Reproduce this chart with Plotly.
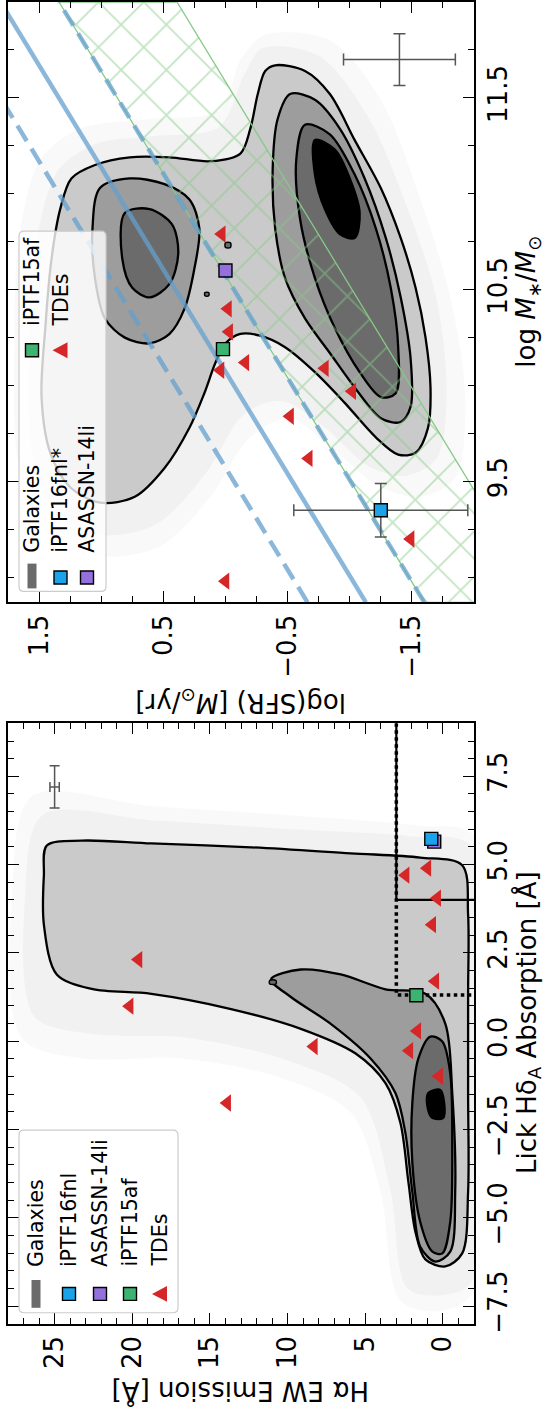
import plotly.graph_objects as go

W, H = 546, 1420
FONT = "DejaVu Sans"

# ---------------- TOP PANEL: log SFR (x) vs log M* (y) ----------------
tde_mass = [8.98, 10.79, 10.40, 10.28, 10.08, 10.12, 9.84, 10.09, 9.97, 9.62, 9.20]
tde_sfr = [0.00, 0.03, -0.02, -0.03, 0.04, -0.16, -0.52, -0.80, -1.02, -0.67, -1.49]
fnl_mass, fnl_sfr, fnl_mass_err, fnl_sfr_err = [9.35], [-1.25], [0.14], [0.70]
li_mass, li_sfr = [10.60], [0.00]
af_mass, af_sfr = [10.19], [0.02]
errtop_mass, errtop_sfr, errtop_mass_err, errtop_sfr_err = [11.70], [-1.40], [0.135], [0.45]

ms_mass = [8.87, 12.0]
ms_sfr = [-1.13, 1.81]
ms_hi_sfr = [-0.66, 2.28]
ms_lo_sfr = [-1.60, 1.34]
gv_edge_sfr = [-2.55, 0.39]

top_halo_sfr = [-0.32, -0.84, -1.25, -1.57, -1.81, -1.93, -1.85, -1.57, -1.25, -0.84, -0.52, -0.20, 0.12, 0.53, 1.01, 1.41, 1.66, 1.70, 1.66, 1.49, 1.17, 0.61, 0.04, -0.12]
top_halo_mass = [11.83, 11.80, 11.49, 10.97, 10.46, 9.94, 9.52, 9.42, 9.47, 9.68, 9.83, 9.73, 9.42, 9.16, 9.11, 9.21, 9.57, 10.20, 10.77, 11.18, 11.34, 11.39, 11.44, 11.70]
top_halo2_sfr = [-0.30, -0.75, -1.15, -1.45, -1.70, -1.78, -1.70, -1.45, -1.15, -0.80, -0.45, -0.15, 0.15, 0.55, 1.00, 1.35, 1.55, 1.58, 1.52, 1.35, 1.05, 0.60, 0.05, -0.15]
top_halo2_mass = [11.76, 11.72, 11.40, 10.95, 10.45, 9.95, 9.62, 9.53, 9.58, 9.78, 9.92, 9.85, 9.55, 9.28, 9.22, 9.32, 9.62, 10.20, 10.75, 11.12, 11.26, 11.30, 11.35, 11.62]

top_c1_sfr = [-0.40, -0.64, -0.84, -1.04, -1.25, -1.41, -1.53, -1.61, -1.65, -1.63, -1.53, -1.39, -1.21, -0.96, -0.72, -0.48, -0.28, -0.12, 0.00, 0.08, 0.17, 0.29, 0.49, 0.73, 1.01, 1.25, 1.41, 1.48, 1.45, 1.40, 1.33, 1.24, 1.05, 0.77, 0.45, 0.12, -0.12, -0.20, -0.26, -0.32]
top_c1_mass = [11.67, 11.64, 11.52, 11.28, 11.03, 10.77, 10.51, 10.25, 9.99, 9.78, 9.65, 9.64, 9.73, 9.91, 10.07, 10.20, 10.26, 10.27, 10.22, 10.12, 9.96, 9.78, 9.57, 9.42, 9.39, 9.47, 9.65, 9.94, 10.30, 10.66, 10.92, 11.08, 11.15, 11.19, 11.19, 11.17, 11.21, 11.34, 11.52, 11.64]

top_c2a_sfr = [1.01, 0.77, 0.49, 0.29, 0.21, 0.25, 0.33, 0.45, 0.61, 0.81, 0.97, 1.05, 1.07]
top_c2a_mass = [11.03, 11.08, 11.05, 10.97, 10.82, 10.61, 10.40, 10.27, 10.22, 10.25, 10.35, 10.56, 10.82]
top_c2b_sfr = [-0.52, -0.72, -0.92, -1.12, -1.29, -1.41, -1.49, -1.49, -1.41, -1.25, -1.04, -0.84, -0.64, -0.48, -0.40, -0.38, -0.42]
top_c2b_mass = [11.52, 11.49, 11.34, 11.08, 10.77, 10.46, 10.14, 9.89, 9.81, 9.83, 9.99, 10.17, 10.35, 10.56, 10.82, 11.13, 11.39]

top_c3a_sfr = [0.81, 0.61, 0.43, 0.38, 0.45, 0.61, 0.75, 0.83]
top_c3a_mass = [10.90, 10.92, 10.84, 10.69, 10.53, 10.46, 10.51, 10.66]
top_c3b_sfr = [-0.64, -0.84, -1.04, -1.21, -1.33, -1.39, -1.37, -1.25, -1.08, -0.88, -0.72, -0.60, -0.57]
top_c3b_mass = [11.36, 11.31, 11.10, 10.82, 10.51, 10.20, 9.96, 9.94, 10.07, 10.30, 10.56, 10.87, 11.18]

top_c4_sfr = [-0.72, -0.88, -1.00, -1.08, -1.04, -0.92, -0.80, -0.72]
top_c4_mass = [11.28, 11.23, 11.08, 10.90, 10.77, 10.79, 10.92, 11.10]

# small contour islands
top_isl1_sfr = [0.165, 0.135, 0.135, 0.165]
top_isl1_mass = [10.485, 10.485, 10.468, 10.468]
top_isl2_sfr = [0.00, -0.04, -0.04, 0.00]
top_isl2_mass = [10.745, 10.745, 10.72, 10.72]

# ---------------- BOTTOM PANEL: H-alpha EW (x) vs Lick HdA (y) ----------------
tde_halpha = [13.89, 19.60, 20.17, 8.31, 0.49, 1.65, 2.16, 0.24, 2.40, 1.00, 0.37, 0.69]
tde_hdelta = [-1.75, 2.31, 0.99, -0.15, 1.70, 0.29, -0.27, -0.99, 4.70, 4.90, 4.05, 3.30]
fnl_ha, fnl_hd = [0.75], [5.73]
li_ha, li_hd = [0.56], [5.65]
af_ha, af_hd = [1.71], [1.30]
errbot_ha, errbot_hd, errbot_ha_err, errbot_hd_err = [25.0], [7.2], [0.3], [0.6]

psb_ha = [3.0, 3.0, -2.0]
psb_hd = [9.0, 4.0, 4.0]
qbs_ha = [3.0, 3.0, -2.0]
qbs_hd = [9.0, 1.31, 1.31]

bot_halo_ha = [26.46, 18.77, 9.15, 1.46, -2.0, -2.0, 0.17, 2.74, 4.02, 5.94, 10.43, 16.84, 23.25, 27.10, 27.74]
bot_halo_hd = [6.94, 6.66, 6.38, 6.10, 5.82, -7.08, -7.64, -7.36, -4.27, -2.03, -1.04, -0.49, -0.49, 0.08, 4.14]
bot_halo2_ha = [25.80, 18.50, 9.50, 2.00, -1.90, -1.90, 0.20, 2.30, 3.40, 5.30, 10.00, 16.50, 22.50, 26.30, 26.90]
bot_halo2_hd = [6.40, 6.25, 6.00, 5.80, 5.50, -6.80, -7.20, -7.00, -4.20, -1.60, -0.55, 0.10, 0.20, 0.70, 4.10]

bot_c1_ha = [25.50, 23.25, 18.77, 12.35, 5.94, 1.46, -1.24, -1.62, -1.62, -1.62, -1.62, -1.24, -0.15, 1.13, 1.77, 2.22, 2.74, 3.70, 5.62, 9.15, 13.64, 18.77, 22.61, 24.86, 25.69, 25.69]
bot_c1_hd = [5.54, 5.68, 5.60, 5.49, 5.32, 5.20, 4.98, 3.58, 1.34, -1.47, -4.27, -6.01, -6.38, -6.18, -5.40, -4.00, -2.31, -1.19, -0.35, 0.35, 0.91, 1.34, 1.48, 1.89, 3.30, 4.70]
bot_c2_ha = [11.07, 9.15, 6.58, 3.70, 1.13, -0.15, -0.60, -0.79, -0.47, 0.49, 1.46, 1.97, 2.42, 3.06, 4.66, 7.22, 9.79]
bot_c2_hd = [1.75, 2.03, 1.89, 1.47, 1.34, 0.50, -1.47, -4.27, -5.96, -6.24, -5.82, -4.27, -2.59, -1.47, -0.49, 0.49, 1.25]
bot_c3_ha = [0.81, 0.04, -0.47, -0.60, -0.47, 0.04, 0.68, 1.46, 1.97, 1.97, 1.58]
bot_c3_hd = [0.13, -0.01, -0.91, -2.87, -5.12, -6.01, -5.96, -5.12, -3.43, -1.75, -0.49]
bot_c4_ha = [0.94, 0.17, -0.08, -0.02, 0.69, 1.01]
bot_c4_hd = [-1.47, -1.38, -1.75, -2.17, -2.17, -1.81]
bot_isl_ha = [11.15, 10.75, 10.75, 11.15]
bot_isl_hd = [1.72, 1.72, 1.62, 1.62]

# ---------------- styling ----------------
C1, C2, C3, C4 = "#cacaca", "#9d9d9d", "#6b6b6b", "#000000"
RED, BLUE, PURPLE, GREEN = "#d62728", "#1aa3e8", "#9370db", "#3cb371"
MSBLUE = "rgba(100,160,205,0.75)"
HATCH = "#86c986"

fig = go.Figure()


def closed(a):
    return list(a) + [a[0]]


def poly(xs, ys, fill, xa, ya, line=True, lw=2.3):
    fig.add_trace(go.Scatter(
        x=closed(xs), y=closed(ys), mode="lines", fill="toself", fillcolor=fill,
        line=dict(color="black" if line else "rgba(0,0,0,0)", width=lw,
                  shape="spline", smoothing=0.9),
        xaxis=xa, yaxis=ya, hoverinfo="skip", showlegend=False))


# ---- top panel
poly(top_halo_sfr, top_halo_mass, "rgba(0,0,0,0.025)", "x", "y", line=False)
poly(top_halo2_sfr, top_halo2_mass, "rgba(0,0,0,0.03)", "x", "y", line=False)
poly(top_c1_sfr, top_c1_mass, C1, "x", "y")
poly(top_c2a_sfr, top_c2a_mass, C2, "x", "y")
poly(top_c2b_sfr, top_c2b_mass, C2, "x", "y")
poly(top_c3a_sfr, top_c3a_mass, C3, "x", "y")
poly(top_c3b_sfr, top_c3b_mass, C3, "x", "y")
poly(top_c4_sfr, top_c4_mass, C4, "x", "y")
poly(top_isl1_sfr, top_isl1_mass, C3, "x", "y", lw=1.5)
poly(top_isl2_sfr, top_isl2_mass, C3, "x", "y", lw=1.5)

# green valley hatch
fig.add_trace(go.Scatter(
    x=[ms_lo_sfr[0], ms_lo_sfr[1], gv_edge_sfr[1], gv_edge_sfr[0], ms_lo_sfr[0]],
    y=[ms_mass[0], ms_mass[1], ms_mass[1], ms_mass[0], ms_mass[0]],
    mode="lines", fill="toself", fillcolor="rgba(0,0,0,0)",
    fillpattern=dict(shape="x", fgcolor=HATCH, bgcolor="rgba(0,0,0,0)", size=32, solidity=0.11),
    line=dict(color=HATCH, width=1.3), xaxis="x", yaxis="y", hoverinfo="skip", showlegend=False))

fig.add_trace(go.Scatter(x=ms_sfr, y=ms_mass, mode="lines", line=dict(color=MSBLUE, width=4.5),
                         xaxis="x", yaxis="y", showlegend=False, hoverinfo="skip"))
for s in (ms_hi_sfr, ms_lo_sfr):
    fig.add_trace(go.Scatter(x=s, y=ms_mass, mode="lines",
                             line=dict(color=MSBLUE, width=4.5, dash="18px,9px"),
                             xaxis="x", yaxis="y", showlegend=False, hoverinfo="skip"))

fig.add_trace(go.Scatter(
    x=errtop_sfr, y=errtop_mass, mode="markers", marker=dict(size=1, color="rgba(0,0,0,0)"),
    error_x=dict(type="data", array=errtop_sfr_err, color="#555555", thickness=1.5, width=6),
    error_y=dict(type="data", array=errtop_mass_err, color="#555555", thickness=1.5, width=6),
    xaxis="x", yaxis="y", showlegend=False, hoverinfo="skip"))

fig.add_trace(go.Scatter(x=tde_sfr, y=tde_mass, mode="markers",
                         marker=dict(symbol="triangle-left", size=15, color=RED, line=dict(width=0)),
                         xaxis="x", yaxis="y", showlegend=False, hoverinfo="skip"))
fig.add_trace(go.Scatter(
    x=fnl_sfr, y=fnl_mass, mode="markers",
    marker=dict(symbol="square", size=13, color=BLUE, line=dict(color="black", width=1.4)),
    error_x=dict(type="data", array=fnl_sfr_err, color="#555555", thickness=1.5, width=6),
    error_y=dict(type="data", array=fnl_mass_err, color="#555555", thickness=1.5, width=6),
    xaxis="x", yaxis="y", showlegend=False, hoverinfo="skip"))
for xx, yy, cc in ((li_sfr, li_mass, PURPLE), (af_sfr, af_mass, GREEN)):
    fig.add_trace(go.Scatter(x=xx, y=yy, mode="markers",
                             marker=dict(symbol="square", size=13, color=cc, line=dict(color="black", width=1.4)),
                             xaxis="x", yaxis="y", showlegend=False, hoverinfo="skip"))

# ---- bottom panel
poly(bot_halo_ha, bot_halo_hd, "rgba(0,0,0,0.025)", "x2", "y2", line=False)
poly(bot_halo2_ha, bot_halo2_hd, "rgba(0,0,0,0.03)", "x2", "y2", line=False)
poly(bot_c1_ha, bot_c1_hd, C1, "x2", "y2")
poly(bot_c2_ha, bot_c2_hd, C2, "x2", "y2")
poly(bot_c3_ha, bot_c3_hd, C3, "x2", "y2")
poly(bot_c4_ha, bot_c4_hd, C4, "x2", "y2")
poly(bot_isl_ha, bot_isl_hd, C3, "x2", "y2", lw=1.5)

fig.add_trace(go.Scatter(x=psb_ha, y=psb_hd, mode="lines", line=dict(color="black", width=2.2),
                         xaxis="x2", yaxis="y2", showlegend=False, hoverinfo="skip"))
fig.add_trace(go.Scatter(x=qbs_ha, y=qbs_hd, mode="lines", line=dict(color="black", width=3.5, dash="dot"),
                         xaxis="x2", yaxis="y2", showlegend=False, hoverinfo="skip"))

fig.add_trace(go.Scatter(
    x=errbot_ha, y=errbot_hd, mode="markers", marker=dict(size=1, color="rgba(0,0,0,0)"),
    error_x=dict(type="data", array=errbot_ha_err, color="#555555", thickness=1.5, width=5),
    error_y=dict(type="data", array=errbot_hd_err, color="#555555", thickness=1.5, width=5),
    xaxis="x2", yaxis="y2", showlegend=False, hoverinfo="skip"))

fig.add_trace(go.Scatter(x=tde_halpha, y=tde_hdelta, mode="markers",
                         marker=dict(symbol="triangle-left", size=15, color=RED, line=dict(width=0)),
                         xaxis="x2", yaxis="y2", showlegend=False, hoverinfo="skip"))
for xx, yy, cc in ((li_ha, li_hd, PURPLE), (fnl_ha, fnl_hd, BLUE), (af_ha, af_hd, GREEN)):
    fig.add_trace(go.Scatter(x=xx, y=yy, mode="markers",
                             marker=dict(symbol="square", size=13, color=cc, line=dict(color="black", width=1.4)),
                             xaxis="x2", yaxis="y2", showlegend=False, hoverinfo="skip"))


# ---------------- axes ----------------
def px(x):
    return x / W


def py(y):
    return 1 - y / H


tickfont = dict(family=FONT, size=26, color="black")


def axstyle(**kw):
    d = dict(showline=True, linecolor="black", linewidth=1.8, mirror="ticks", ticks="inside",
             ticklen=11, tickwidth=1.4, tickcolor="black", showgrid=False, zeroline=False,
             tickfont=tickfont, tickangle=-90, tickmode="array")
    d.update(kw)
    return d


XD = [px(8), px(474)]
fig.update_layout(
    width=W, height=H, margin=dict(l=0, r=0, t=0, b=0),
    paper_bgcolor="white", plot_bgcolor="white", showlegend=False,
    xaxis=axstyle(domain=XD, range=[1.75, -2.0], anchor="y",
                  tickvals=[1.5, 0.5, -0.5, -1.5], ticktext=["1.5", "0.5", "\u22120.5", "\u22121.5"],
                  minor=dict(ticks="inside", ticklen=6, tickwidth=1.2, tickcolor="black",
                             tickmode="linear", tick0=0, dtick=0.25)),
    yaxis=axstyle(domain=[py(606), py(1)], range=[8.87, 12.0], anchor="x", side="right",
                  tickvals=[9.5, 10.5, 11.5], ticktext=["9.5", "10.5", "11.5"],
                  minor=dict(ticks="inside", ticklen=6, tickwidth=1.2, tickcolor="black",
                             tickmode="linear", tick0=0, dtick=0.25)),
    xaxis2=axstyle(domain=XD, range=[28, -2], anchor="y2",
                   tickvals=[0, 5, 10, 15, 20, 25], ticktext=["0", "5", "10", "15", "20", "25"],
                   minor=dict(ticks="inside", ticklen=6, tickwidth=1.2, tickcolor="black",
                              tickmode="linear", tick0=0, dtick=1)),
    yaxis2=axstyle(domain=[py(1333), py(728)], range=[-8, 9], anchor="x2", side="right",
                   tickvals=[-7.5, -5, -2.5, 0, 2.5, 5, 7.5],
                   ticktext=["\u22127.5", "\u22125.0", "\u22122.5", "0.0", "2.5", "5.0", "7.5"],
                   minor=dict(ticks="inside", ticklen=6, tickwidth=1.2, tickcolor="black",
                              tickmode="linear", tick0=0, dtick=0.5)),
)

annos = []
shapes = []


def text(x, y, s, angle, size=26, xanchor="center", yanchor="middle"):
    annos.append(dict(x=px(x), y=py(y), xref="paper", yref="paper", text=s, showarrow=False,
                      textangle=angle, xanchor=xanchor, yanchor=yanchor,
                      font=dict(family=FONT, size=size, color="black")))


# axis titles
text(528, 1030, "Lick H\u03b4<sub>A</sub> Absorption [\u00c5]", -90)
text(528, 303, "log <i>M</i><sub>\u2217</sub>/<i>M</i><sub>\u2299</sub>", -90)
text(241, 1402, "H\u03b1 EW Emission [\u00c5]", 180)
text(241, 706, "log(SFR) [<i>M</i><sub>\u2299</sub>/yr]", 180)


def rbox(x0, y0, x1, y1, r=5):
    X0, X1 = px(x0), px(x1)
    Y0, Y1 = py(y0), py(y1)
    rx, ry = r / W, r / H
    path = (f"M{X0 + rx},{Y0} L{X1 - rx},{Y0} Q{X1},{Y0} {X1},{Y0 - ry} "
            f"L{X1},{Y1 + ry} Q{X1},{Y1} {X1 - rx},{Y1} L{X0 + rx},{Y1} Q{X0},{Y1} {X0},{Y1 + ry} "
            f"L{X0},{Y0 - ry} Q{X0},{Y0} {X0 + rx},{Y0} Z")
    shapes.append(dict(type="path", path=path, xref="paper", yref="paper",
                       fillcolor="rgba(255,255,255,0.8)", line=dict(color="#cccccc", width=1.2)))


def sq(cx, cy, col, s=13):
    shapes.append(dict(type="rect", xref="paper", yref="paper",
                       x0=px(cx - s / 2), x1=px(cx + s / 2), y0=py(cy + s / 2), y1=py(cy - s / 2),
                       fillcolor=col, line=dict(color="black", width=1.4)))


def bar(cx, y0, y1, w=9):
    shapes.append(dict(type="rect", xref="paper", yref="paper",
                       x0=px(cx - w / 2), x1=px(cx + w / 2), y0=py(y1), y1=py(y0),
                       fillcolor="#6b6b6b", line=dict(width=0)))


def tri(cx, cy):
    path = f"M{px(cx - 8)},{py(cy)} L{px(cx + 7)},{py(cy - 8)} L{px(cx + 7)},{py(cy + 8)} Z"
    shapes.append(dict(type="path", path=path, xref="paper", yref="paper",
                       fillcolor=RED, line=dict(width=0)))


LF = 20.5
# bottom legend
rbox(19, 1138, 178, 1322)
bar(36, 1289, 1317)
sq(69, 1303, BLUE)
sq(100, 1303, PURPLE)
sq(130, 1303, GREEN)
tri(160, 1303)
for xx, s in ((36, "Galaxies"), (69, "iPTF16fnl"), (100, "ASASSN-14li"), (130, "iPTF15af"), (160, "TDEs")):
    text(xx, 1278, s, -90, size=LF, yanchor="bottom")

# top legend
rbox(19, 232, 106, 595)
bar(32, 567, 592)
sq(60.5, 581, BLUE)
sq(87, 581, PURPLE)
sq(32, 352, GREEN)
tri(60.5, 352)
for xx, s in ((32, "Galaxies"), (60.5, "iPTF16fnl*"), (87, "ASASSN-14li")):
    text(xx, 558, s, -90, size=LF, yanchor="bottom")
for xx, s in ((32, "iPTF15af"), (60.5, "TDEs")):
    text(xx, 330, s, -90, size=LF, yanchor="bottom")

fig.update_layout(annotations=annos, shapes=shapes)
fig.write_html("out.html")
